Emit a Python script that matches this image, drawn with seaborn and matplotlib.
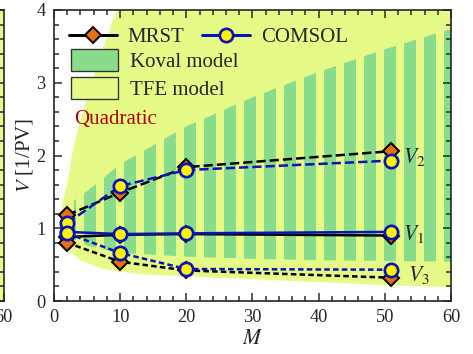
import numpy as np
import pandas as pd
import matplotlib
matplotlib.use("Agg")
import matplotlib.pyplot as plt
from matplotlib.lines import Line2D
from matplotlib.patches import Patch
from matplotlib.ticker import MultipleLocator
import seaborn as sns

# Simulated points
M_pts = [2, 10, 20, 51]
mrst_V1 = [0.88, 0.91, 0.92, 0.90]
mrst_V2 = [1.18, 1.49, 1.84, 2.06]
mrst_V3 = [0.80, 0.54, 0.42, 0.32]
comsol_V1 = [0.95, 0.92, 0.93, 0.95]
comsol_V2 = [1.07, 1.58, 1.80, 1.93]
comsol_V3 = [0.93, 0.66, 0.44, 0.43]

# TFE model envelope
tfe_M = [1.2, 1.7, 2.2, 2.8, 4, 5.7, 7.5, 9.5, 12, 15, 20, 30, 40, 50, 60]
tfe_low = [0.90, 0.78, 0.72, 0.65, 0.56, 0.50, 0.44, 0.41, 0.38, 0.36, 0.34, 0.30, 0.26, 0.22, 0.19]
tfe_high = [1.30, 1.50, 1.70, 2.05, 2.50, 3.00, 3.50, 4.00, 4.60, 5.30, 6.30, 8.00, 9.50, 11.0, 12.5]

# Koval model envelope
koval_M = [3, 4, 5, 10, 20, 30, 40, 50, 60]
koval_low = [0.85, 0.80, 0.76, 0.66, 0.61, 0.58, 0.56, 0.55, 0.54]
koval_high = [1.38, 1.45, 1.51, 1.88, 2.40, 2.80, 3.15, 3.46, 3.74]

yellow = "#e6fa87"
green = "#88dc8c"
orange = "#e8700f"
blue = "#0a14b4"
circ = "#fff200"

sns.set_style("ticks")
plt.rcParams["font.family"] = ["Liberation Serif", "DejaVu Serif"]
plt.rcParams["mathtext.fontset"] = "stix"
plt.rcParams["hatch.color"] = green
plt.rcParams["hatch.linewidth"] = 7.2

dpi = 120
fig = plt.figure(figsize=(473 / dpi, 354 / dpi), dpi=dpi)

# sliver of the neighbouring panel on the left
axl = fig.add_axes([-0.5, 53 / 354, 0.5 + 3.5 / 473, 291 / 354])
axl.set_facecolor(yellow)
axl.fill_between([0, 60], [0.25, 0.25], [3.8, 3.8], facecolor="none",
                 edgecolor=green, hatch="|", linewidth=0)
axl.set_xlim(0, 60)
axl.set_ylim(0, 4)
axl.set_xticks([60])
axl.set_xticklabels(["60"], fontsize=11)
axl.set_yticks([])
axl.yaxis.set_minor_locator(MultipleLocator(0.2))
axl.tick_params(axis="y", which="both", right=True, left=False, direction="in",
                length=4.8, width=0.9)
axl.tick_params(axis="x", direction="in", length=4.8, width=0.9, pad=5)
for s in axl.spines.values():
    s.set_linewidth(1.0)

ax = fig.add_axes([54 / 473, 53 / 354, 397 / 473, 291 / 354])

ax.fill_between(tfe_M, tfe_low, tfe_high, color=yellow, linewidth=0, zorder=0)
ax.fill_between(koval_M, koval_low, koval_high, facecolor="none", edgecolor=green,
                hatch="|", linewidth=0, zorder=0.5)

styles = {"V2": (0, (3.7, 1.6)), "V1": "-", "V3": (0, (2.2, 1.3))}
mrst = {"V1": mrst_V1, "V2": mrst_V2, "V3": mrst_V3}
comsol = {"V1": comsol_V1, "V2": comsol_V2, "V3": comsol_V3}

for key, vals in mrst.items():
    df = pd.DataFrame({"M": M_pts, "V": vals})
    sns.lineplot(data=df, x="M", y="V", ax=ax, color="black", linewidth=1.5,
                 linestyle=styles[key], marker="D", markersize=7,
                 markerfacecolor=orange, mec="black", mew=1.2, zorder=3)
for key, vals in comsol.items():
    df = pd.DataFrame({"M": M_pts, "V": vals})
    sns.lineplot(data=df, x="M", y="V", ax=ax, color=blue, linewidth=1.5,
                 linestyle=styles[key], marker="o", markersize=8,
                 markerfacecolor=circ, mec=blue, mew=1.6, zorder=4)

ax.text(52.8, 1.98, r"$V_2$", fontsize=13, va="center")
ax.text(52.8, 0.92, r"$V_1$", fontsize=13, va="center")
ax.text(53.5, 0.36, r"$V_3$", fontsize=13, va="center")
ax.text(3.0, 2.5, "Quadratic", color="#b00000", fontsize=12.5, va="center")

ax.set_xlim(0, 60)
ax.set_ylim(0, 4)
ax.xaxis.set_major_locator(MultipleLocator(10))
ax.xaxis.set_minor_locator(MultipleLocator(2))
ax.yaxis.set_major_locator(MultipleLocator(1))
ax.yaxis.set_minor_locator(MultipleLocator(0.2))
ax.tick_params(which="both", direction="in", top=True, right=True, labelsize=11, width=0.9)
ax.tick_params(which="major", length=4.8, pad=5)
ax.tick_params(which="minor", length=3)
for s in ax.spines.values():
    s.set_linewidth(1.0)
ax.set_xlabel(r"$M$", fontsize=13, labelpad=2)
ax.set_ylabel(r"$V$ [1/PV]", fontsize=12.5, labelpad=1)

h1 = [Line2D([], [], color="black", lw=1.8, marker="D", ms=7, mfc=orange, mec="black", mew=1.2),
      Line2D([], [], color=blue, lw=1.8, marker="o", ms=8, mfc=circ, mec=blue, mew=1.6)]
leg1 = ax.legend(h1, ["MRST", "COMSOL"], ncol=2, loc="upper left", frameon=False,
                 fontsize=12.5, bbox_to_anchor=(0.0, 0.99), handlelength=2.3,
                 handletextpad=0.5, columnspacing=0.9, borderaxespad=0.3)
ax.add_artist(leg1)
h2 = [Patch(facecolor=green, edgecolor="#333333", lw=0.8),
      Patch(facecolor=yellow, edgecolor="#333333", lw=0.8)]
ax.legend(h2, ["Koval model", "TFE model"], loc="upper left", frameon=False,
          fontsize=12.5, bbox_to_anchor=(0.005, 0.915), handlelength=2.3, handleheight=1.2,
          handletextpad=0.55, labelspacing=0.25, borderaxespad=0.3)

fig.savefig("out.png", dpi=dpi)
